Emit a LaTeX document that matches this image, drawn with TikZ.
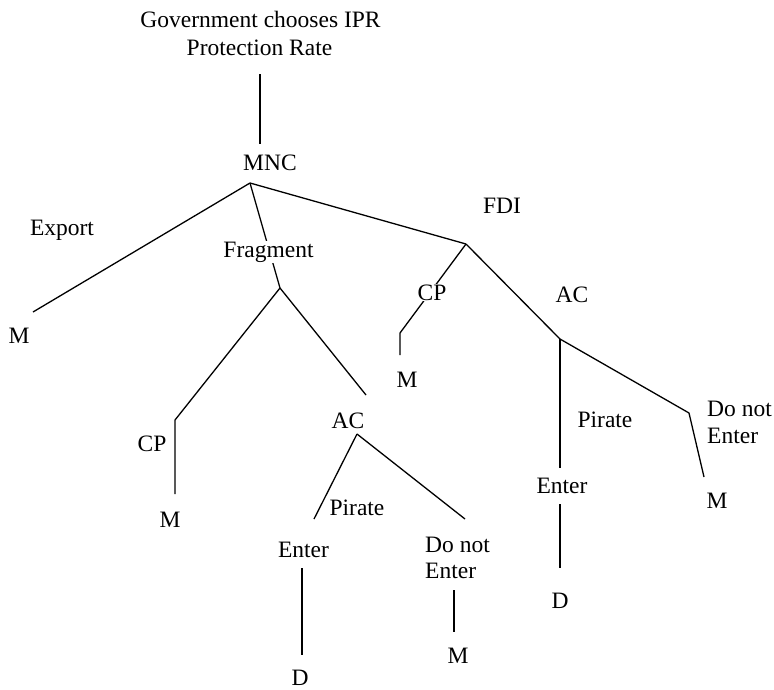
\documentclass[tikz,border=0pt]{standalone}
\usepackage{fontspec}
\setmainfont{Liberation Serif}
\begin{document}
\begin{tikzpicture}[x=1pt,y=-1pt,
  lbl/.style={anchor=base,inner sep=0pt,font=\fontsize{23.5}{27}\selectfont},
  lblw/.style={lbl,anchor=base west},
  mask/.style={fill=white,inner sep=0.5pt},
  edge/.style={line width=1.3pt,line join=miter}]
\useasboundingbox (0,0) rectangle (774,689);
% branch points and line ends
\coordinate (govb) at (260,74);
\coordinate (mnca) at (260,144);
\coordinate (mnc) at (250,183);
\coordinate (expE) at (33,312);
\coordinate (frag) at (280,288);
\coordinate (fcp1) at (175,420);
\coordinate (fcp2) at (175,494);
\coordinate (facE) at (366,395);
\coordinate (fac) at (357,434);
\coordinate (fpirE) at (314,519);
\coordinate (fdnE) at (465,519);
\coordinate (fen1) at (302,568);
\coordinate (fen2) at (302,655);
\coordinate (fdn1) at (454,590);
\coordinate (fdn2) at (454,632);
\coordinate (fdi) at (466,244);
\coordinate (dcp1) at (400,333);
\coordinate (dcp2) at (400,355);
\coordinate (dac) at (560,339);
\coordinate (dpirE) at (560,468);
\coordinate (den1) at (560,504);
\coordinate (den2) at (560,568);
\coordinate (ddn1) at (689,413);
\coordinate (ddn2) at (704,477);
% connectors
\draw[edge] (govb) -- (mnca);
\draw[edge] (mnc) -- (expE);
\draw[edge] (mnc) -- (frag);
\draw[edge] (mnc) -- (fdi);
\draw[edge] (frag) -- (fcp1) -- (fcp2);
\draw[edge] (frag) -- (facE);
\draw[edge] (fac) -- (fpirE);
\draw[edge] (fac) -- (fdnE);
\draw[edge] (fen1) -- (fen2);
\draw[edge] (fdn1) -- (fdn2);
\draw[edge] (fdi) -- (dcp1) -- (dcp2);
\draw[edge] (fdi) -- (dac);
\draw[edge] (dac) -- (dpirE);
\draw[edge] (den1) -- (den2);
\draw[edge] (dac) -- (ddn1) -- (ddn2);
% labels
\node[lbl] (gov1) at (260.5,27) {Government chooses IPR};
\node[lbl] (gov2) at (259.5,55) {Protection Rate};
\node[lbl] (mnct) at (270,170) {MNC};
\node[lbl] (expt) at (62,235) {Export};
\node[lbl] (expm) at (19,343) {M};
\node[lbl,mask] (fragt) at (268.5,257) {Fragment};
\node[lbl] (fcpt) at (152,451) {CP};
\node[lbl] (fcpm) at (170,527) {M};
\node[lbl] (fact) at (348,428) {AC};
\node[lbl] (fpirt) at (357,515) {Pirate};
\node[lbl] (fent) at (303.5,557) {Enter};
\node[lbl] (fend) at (300,685) {D};
\node[lblw] (fdnt1) at (425,552) {Do not};
\node[lblw] (fdnt2) at (425,578) {Enter};
\node[lbl] (fdnm) at (458,663) {M};
\node[lbl] (fdit) at (502,213) {FDI};
\node[lbl,mask] (dcpt) at (432,300) {CP};
\node[lbl] (dcpm) at (407,387) {M};
\node[lbl] (dact) at (572,302) {AC};
\node[lbl] (dpirt) at (605,427) {Pirate};
\node[lbl] (dent) at (562,493) {Enter};
\node[lbl] (dend) at (560,608) {D};
\node[lblw] (ddnt1) at (707,416) {Do not};
\node[lblw] (ddnt2) at (707,443) {Enter};
\node[lbl] (ddnm) at (717,508) {M};
\end{tikzpicture}
\end{document}
